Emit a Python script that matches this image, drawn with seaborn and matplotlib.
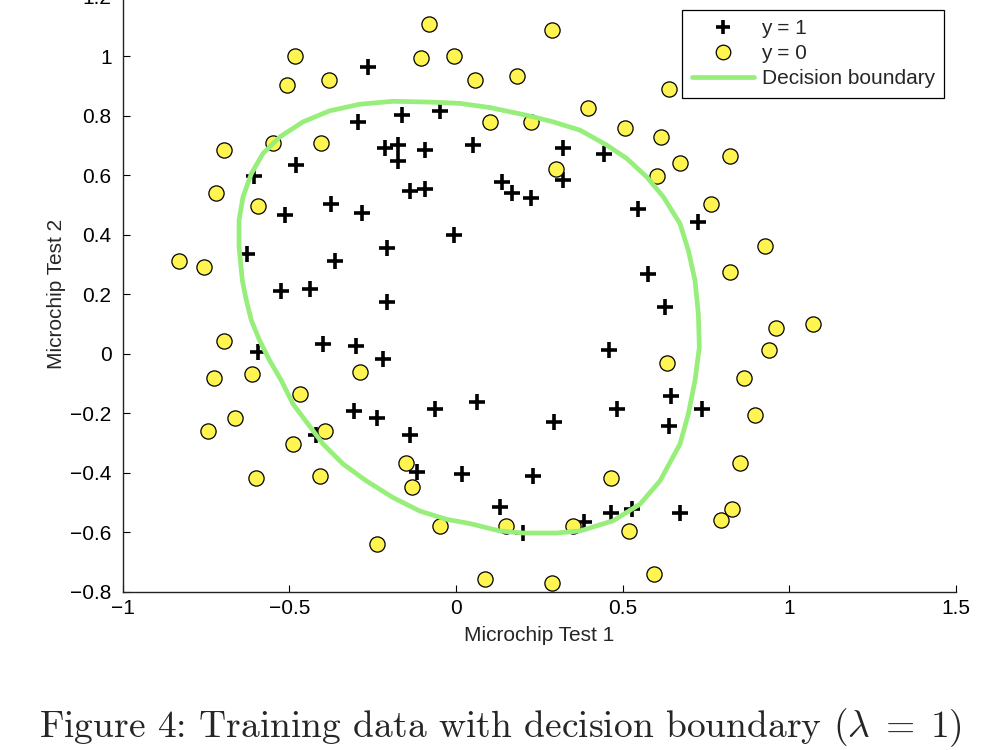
import matplotlib
matplotlib.use("Agg")
import matplotlib.pyplot as plt
from matplotlib.lines import Line2D
import seaborn as sns

# ---------------- data ----------------
pos_x = [0.051267, -0.092742, -0.21371, -0.375, -0.51325, -0.52477, -0.39804, -0.30588, 0.016705, 0.13191,
         0.38537, 0.52938, 0.63882, 0.73675, 0.54666, 0.322, 0.16647, -0.046659, -0.17339, -0.47869,
         -0.60541, -0.62846, -0.59389, -0.42108, -0.11578, 0.20104, 0.46601, 0.67339, -0.13882, -0.29435,
         -0.26555, -0.16187, -0.17339, -0.28283, -0.36348, -0.30012, -0.23675, -0.06394, 0.062788, 0.22984,
         0.2932, 0.48329, 0.64459, 0.46025, 0.6273, 0.57546, 0.72523, 0.22408, 0.44297, 0.322,
         0.13767, -0.0063364, -0.092742, -0.20795, -0.20795, -0.43836, -0.21947, -0.13882]
pos_y = [0.69956, 0.68494, 0.69225, 0.50219, 0.46564, 0.2098, 0.034357, -0.19225, -0.40424, -0.51389,
         -0.56506, -0.5212, -0.24342, -0.18494, 0.48757, 0.5826, 0.53874, 0.81652, 0.69956, 0.63377,
         0.59722, 0.33406, 0.005117, -0.27266, -0.39693, -0.60161, -0.53582, -0.53582, 0.54605, 0.77997,
         0.96272, 0.8019, 0.64839, 0.47295, 0.31213, 0.027047, -0.21418, -0.18494, -0.16301, -0.41155,
         -0.2288, -0.18494, -0.14108, 0.012427, 0.15863, 0.26827, 0.44371, 0.52412, 0.67032, 0.69225,
         0.57529, 0.39985, 0.55336, 0.35599, 0.17325, 0.21711, -0.016813, -0.27266]

neg_x = [0.18376, 0.22408, 0.29896, 0.50634, 0.61578, 0.60426, 0.76555, 0.92684, 0.82316, 0.96141,
         0.93836, 0.86348, 0.89804, 0.85196, 0.82892, 0.79435, 0.59274, 0.51786, 0.46601, 0.35081,
         0.28744, 0.085829, 0.14919, -0.13306, -0.40956, -0.39228, -0.74366, -0.69758, -0.75518, -0.69758,
         -0.4038, -0.38076, -0.50749, -0.54781, 0.10311, 0.057028, -0.10426, -0.081221, 0.28744, 0.39689,
         0.63882, 0.82316, 0.67339, 1.0709, -0.046659, -0.23675, -0.15035, -0.49021, -0.46717, -0.28859,
         -0.61118, -0.66302, -0.59965, -0.72638, -0.83007, -0.72062, -0.59389, -0.48445, -0.0063364, 0.63265]
neg_y = [0.93348, 0.77997, 0.61915, 0.75804, 0.7288, 0.59722, 0.50219, 0.3633, 0.27558, 0.085526,
         0.012427, -0.082602, -0.20687, -0.36769, -0.5212, -0.55775, -0.7405, -0.5943, -0.41886, -0.57968,
         -0.76974, -0.75512, -0.57968, -0.4481, -0.41155, -0.25804, -0.25804, 0.041667, 0.2902, 0.68494,
         0.70687, 0.91886, 0.90424, 0.70687, 0.77997, 0.91886, 0.99196, 1.1089, 1.087, 0.82383,
         0.88962, 0.66301, 0.64108, 0.10015, -0.57968, -0.63816, -0.36769, -0.3019, -0.13377, -0.060673,
         -0.067982, -0.21418, -0.41886, -0.082602, 0.31213, 0.53874, 0.49488, 0.99927, 0.99927, -0.030612]

# decision boundary (closed curve)
bound_x = [0.101, 0.011, -0.069, -0.189, -0.289, -0.379, -0.459, -0.529, -0.579, -0.614,
           -0.639, -0.651, -0.651, -0.641, -0.629, -0.614, -0.589, -0.559, -0.524, -0.489,
           -0.444, -0.399, -0.339, -0.269, -0.189, -0.109, -0.029, 0.041, 0.131, 0.201,
           0.302, 0.372, 0.471, 0.552, 0.612, 0.672, 0.697, 0.717, 0.730, 0.727,
           0.717, 0.697, 0.672, 0.622, 0.572, 0.512, 0.452, 0.372, 0.291, 0.212, 0.101]
bound_y = [0.827, 0.841, 0.845, 0.848, 0.838, 0.816, 0.779, 0.728, 0.673, 0.605,
           0.527, 0.448, 0.358, 0.246, 0.179, 0.112, 0.044, -0.023, -0.090, -0.169,
           -0.236, -0.303, -0.370, -0.427, -0.483, -0.528, -0.556, -0.570, -0.595, -0.602,
           -0.602, -0.595, -0.561, -0.505, -0.427, -0.303, -0.202, -0.090, 0.022, 0.134,
           0.246, 0.347, 0.437, 0.527, 0.594, 0.656, 0.701, 0.751, 0.779, 0.801, 0.827]

legend_labels = ["y = 1", "y = 0", "Decision boundary"]
x_ticks = [-1, -0.5, 0, 0.5, 1, 1.5]
y_ticks = [-0.8, -0.6, -0.4, -0.2, 0, 0.2, 0.4, 0.6, 0.8, 1, 1.2]
x_ticklabels = ["\u22121", "\u22120.5", "0", "0.5", "1", "1.5"]
y_ticklabels = ["\u22120.8", "\u22120.6", "\u22120.4", "\u22120.2", "0", "0.2", "0.4", "0.6", "0.8", "1", "1.2"]
caption = r"Figure 4: Training data with decision boundary ($\lambda \;=\; 1$)"

YELLOW = "#FFF450"
GREEN = "#97EE7A"
FS = 15

# ---------------- style ----------------
sns.set_style("ticks")
plt.rcParams["font.family"] = ["Liberation Sans", "DejaVu Sans"]
plt.rcParams["mathtext.fontset"] = "cm"

fig = plt.figure(figsize=(10, 7.5), dpi=100)
ax = fig.add_axes([0.1227, 0.2107, 0.8333, 0.794])

sns.scatterplot(x=pos_x, y=pos_y, marker="+", s=130, color="black", linewidth=2.6, ax=ax, zorder=3)
sns.scatterplot(x=neg_x, y=neg_y, marker="o", s=120, color=YELLOW, edgecolor="black", linewidth=0.9,
                ax=ax, zorder=4)
sns.lineplot(x=bound_x, y=bound_y, sort=False, estimator=None, color=GREEN, linewidth=3.4, ax=ax, zorder=5)

ax.set_xlim(-1, 1.5)
ax.set_ylim(-0.8, 1.2)
ax.set_xticks(x_ticks)
ax.set_xticklabels(x_ticklabels)
ax.set_yticks(y_ticks)
ax.set_yticklabels(y_ticklabels)
ax.tick_params(direction="in", length=5, width=0.8, labelsize=FS, colors="black", pad=5)
ax.tick_params(axis="y", pad=8)
sns.despine(ax=ax)
for sp in ("left", "bottom"):
    ax.spines[sp].set_linewidth(1.0)
    ax.spines[sp].set_color("#222222")

ax.set_xlabel("Microchip Test 1", fontsize=FS, labelpad=6)
ax.set_ylabel("Microchip Test 2", fontsize=FS, labelpad=3)

handles = [
    Line2D([], [], linestyle="none", marker="+", markersize=10, markeredgewidth=2.6, color="black"),
    Line2D([], [], linestyle="none", marker="o", markersize=10.5, markerfacecolor=YELLOW,
           markeredgecolor="black", markeredgewidth=0.9),
    Line2D([], [], color=GREEN, linewidth=3.4),
]
leg = ax.legend(handles, legend_labels, loc="upper right", bbox_to_anchor=(0.944, 1 - 9.5 / 750),
                bbox_transform=fig.transFigure, fontsize=FS, frameon=True, fancybox=False,
                framealpha=1, edgecolor="black", handlelength=3.0, handletextpad=0.35,
                borderpad=0.45, labelspacing=0.3, borderaxespad=0)
leg.get_frame().set_linewidth(0.9)

fig.text(0.5, 1 - 737 / 750, caption, family="cmr10", fontsize=27, ha="center", va="baseline")

fig.savefig("out.png", dpi=100)
